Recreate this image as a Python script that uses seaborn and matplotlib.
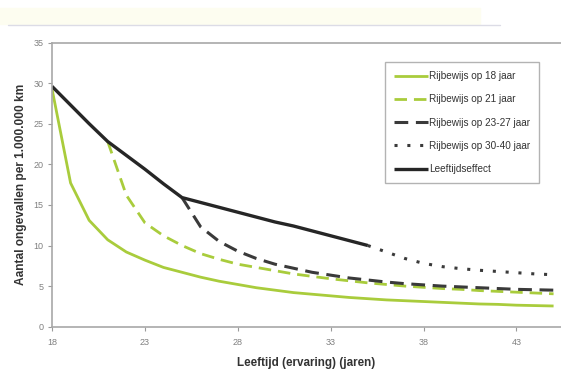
import numpy as np
import pandas as pd
import matplotlib
matplotlib.use("Agg")
import matplotlib.pyplot as plt
from matplotlib.patches import Rectangle
from matplotlib.lines import Line2D
import seaborn as sns

sns.set_style("white")
plt.rcParams["font.family"] = ["Liberation Sans", "DejaVu Sans"]

ages = list(range(18, 46))
nan = np.nan

# Accident rate per 1,000,000 km by age, per licence group
licence_18 = [29.3, 17.7, 13.1, 10.7, 9.2, 8.2, 7.3, 6.7, 6.1, 5.6, 5.2, 4.8,
              4.5, 4.2, 4.0, 3.8, 3.6, 3.45, 3.3, 3.2, 3.1, 3.0, 2.9, 2.8,
              2.75, 2.65, 2.6, 2.55]
licence_21 = [nan, nan, nan, 22.8, 16.2, 12.8, 11.2, 10.0, 9.0, 8.3, 7.7, 7.3,
              6.9, 6.5, 6.2, 5.9, 5.65, 5.4, 5.2, 5.0, 4.85, 4.7, 4.6, 4.45,
              4.35, 4.25, 4.15, 4.05]
licence_23_27 = [nan] * 7 + [15.9, 12.3, 10.5, 9.3, 8.4, 7.7, 7.2, 6.7, 6.35,
                             6.0, 5.75, 5.5, 5.3, 5.15, 5.0, 4.9, 4.8, 4.7,
                             4.6, 4.55, 4.5]
licence_30_40 = [nan] * 17 + [10.0, 9.2, 8.4, 7.8, 7.4, 7.15, 6.95, 6.8, 6.65,
                              6.5, 6.4]
age_effect = [29.6, 27.3, 25.0, 22.8, 21.1, 19.4, 17.6, 15.9, 15.3, 14.7,
              14.1, 13.5, 12.9, 12.4, 11.8, 11.2, 10.6, 10.0] + [nan] * 10

series_names = ["Rijbewijs op 18 jaar", "Rijbewijs op 21 jaar",
                "Rijbewijs op 23-27 jaar", "Rijbewijs op 30-40 jaar",
                "Leeftijdseffect"]
series_values = [licence_18, licence_21, licence_23_27, licence_30_40, age_effect]

x_ticks = [18, 23, 28, 33, 38, 43]
y_ticks = [0, 5, 10, 15, 20, 25, 30, 35]

green = "#a9cc3c"
styles = {
    "Rijbewijs op 18 jaar": dict(color=green, lw=2.0, ls="-"),
    "Rijbewijs op 21 jaar": dict(color=green, lw=2.0, ls=(0, (4.5, 2.5))),
    "Rijbewijs op 23-27 jaar": dict(color="#3a3a3a", lw=2.2, ls=(0, (4.5, 2.5))),
    "Rijbewijs op 30-40 jaar": dict(color="#3a3a3a", lw=2.2, ls=(0, (1, 3.2))),
    "Leeftijdseffect": dict(color="#262626", lw=2.4, ls="-"),
}

df = pd.DataFrame({"Leeftijd": ages * len(series_names),
                   "Ongevallen": sum(series_values, []),
                   "Groep": sum([[n] * len(ages) for n in series_names], [])})

fig = plt.figure(figsize=(5.61, 3.72), dpi=100)

# slide header band above the chart
fig.patches.append(Rectangle((0.0, 1 - 24 / 372), 480 / 561, 16 / 372,
                             transform=fig.transFigure, color="#fdfdf0", zorder=0))
fig.lines.append(Line2D([8 / 561, 500 / 561], [1 - 24.5 / 372] * 2,
                        transform=fig.transFigure, color="#dcdce6", lw=1.0))

ax = fig.add_axes([52 / 561, 1 - 326.7 / 372, 1 - 52 / 561, (326.7 - 42.5) / 372])

for name in series_names:
    sub = df[df["Groep"] == name].dropna()
    st = styles[name]
    sns.lineplot(data=sub, x="Leeftijd", y="Ongevallen", ax=ax, color=st["color"],
                 linewidth=st["lw"], linestyle=st["ls"], label=name,
                 solid_capstyle="butt", dash_capstyle="butt")

ax.set_xlim(18, 45.4)
ax.set_ylim(0, 35)
ax.set_xticks(x_ticks)
ax.set_yticks(y_ticks)
ax.tick_params(axis="both", labelsize=6.5, colors="#9a9a9a", length=3, width=0.8,
               direction="out")
ax.tick_params(axis="x", pad=5)
ax.tick_params(axis="y", pad=3)
for lab in ax.get_xticklabels() + ax.get_yticklabels():
    lab.set_color("#808080")
ax.tick_params(axis="both", bottom=True, left=True)

for side in ["left", "bottom", "top"]:
    ax.spines[side].set_visible(True)
    ax.spines[side].set_color("#a8a8a8")
    ax.spines[side].set_linewidth(1.2)
ax.spines["right"].set_visible(False)

ax.set_xlabel("Leeftijd (ervaring) (jaren)", fontsize=8.4, fontweight="bold",
              color="#333333", labelpad=7)
ax.set_ylabel("Aantal ongevallen per 1.000.000 km", fontsize=8.6, fontweight="bold",
              color="#333333", labelpad=5)

leg = ax.legend(loc="upper left", bbox_to_anchor=((385 - 52) / 509, 1 - (62 - 42.5) / 284.2),
                fontsize=7.2, frameon=True, fancybox=False, borderpad=0.9,
                labelspacing=1.33, handlelength=3.4, handletextpad=0.1,
                borderaxespad=0)
leg.get_frame().set_edgecolor("#a0a0a0")
leg.get_frame().set_linewidth(1.0)
for t in leg.get_texts():
    t.set_color("#333333")

fig.savefig("out.png", dpi=100)
